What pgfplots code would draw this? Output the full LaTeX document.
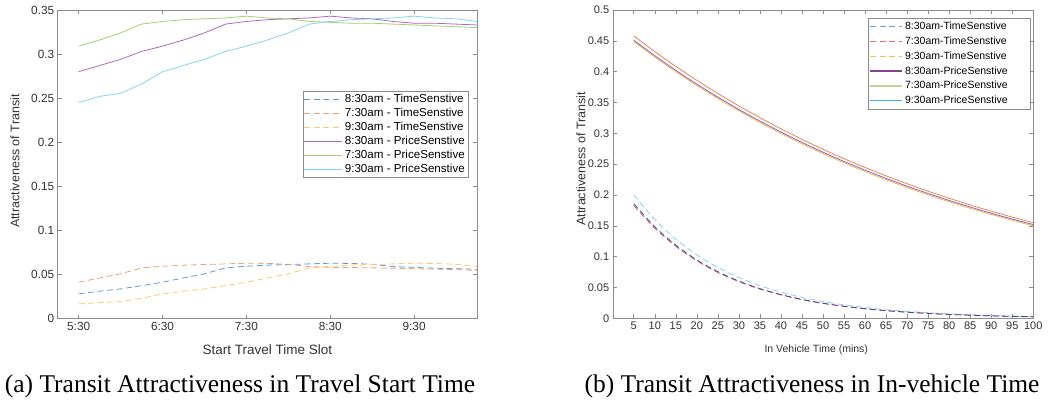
\documentclass[border=0pt]{standalone}
\usepackage{fontspec}
\setmainfont{Liberation Sans}
\newfontfamily\capfont{Liberation Serif}
\usepackage{pgfplots}
\pgfplotsset{compat=1.18}
\definecolor{lTb}{RGB}{95,155,212}
\definecolor{lTo}{RGB}{238,158,128}
\definecolor{lTy}{RGB}{246,205,115}
\definecolor{lPp}{RGB}{172,105,190}
\definecolor{lPg}{RGB}{165,205,115}
\definecolor{lPc}{RGB}{135,210,240}
\definecolor{rLb}{RGB}{110,160,230}
\definecolor{rLr}{RGB}{235,110,90}
\definecolor{rLy}{RGB}{245,190,90}
\definecolor{rLp}{RGB}{130,70,150}
\definecolor{rLg}{RGB}{190,215,150}
\definecolor{rLc}{RGB}{70,170,240}
\definecolor{rCo}{RGB}{235,130,90}
\definecolor{rCp}{RGB}{140,100,180}
\definecolor{rCy}{RGB}{245,180,80}
\definecolor{rCl}{RGB}{140,205,240}
\definecolor{rCn}{RGB}{60,75,160}
\definecolor{rCr}{RGB}{220,90,90}
\definecolor{axg}{RGB}{140,140,140}
\definecolor{txg}{RGB}{50,50,50}

\pgfplotstableread{
k  T830   T730   T930   P830  P730  P930
0  0.0280 0.0412 0.0166 0.280 0.309 0.245
1  0.0310 0.0460 0.0180 0.287 0.316 0.252
2  0.0336 0.0507 0.0193 0.294 0.324 0.2555
3  0.0372 0.0574 0.0230 0.303 0.334 0.266
4  0.0412 0.0593 0.0280 0.309 0.337 0.280
5  0.0460 0.0605 0.0310 0.316 0.339 0.287
6  0.0507 0.0612 0.0336 0.324 0.340 0.294
7  0.0574 0.0620 0.0372 0.334 0.341 0.303
8  0.0593 0.0627 0.0412 0.337 0.343 0.309
9  0.0605 0.0625 0.0460 0.339 0.341 0.316
10 0.0612 0.0615 0.0507 0.340 0.340 0.324
11 0.0620 0.0589 0.0574 0.341 0.337 0.334
12 0.0627 0.0580 0.0593 0.343 0.336 0.337
13 0.0625 0.0578 0.0605 0.341 0.335 0.339
14 0.0615 0.0575 0.0612 0.340 0.335 0.340
15 0.0589 0.0570 0.0620 0.337 0.334 0.341
16 0.0580 0.0565 0.0627 0.335 0.333 0.343
17 0.0570 0.0560 0.0625 0.335 0.332 0.341
18 0.0565 0.0555 0.0615 0.334 0.331 0.340
19 0.0559 0.0545 0.0589 0.333 0.330 0.337
}\lefttab

\pgfplotstableread{
x   So      Sp      Sy      Dl      Dn      Dr
5   0.4580  0.4510  0.4490  0.2000  0.1860  0.1830
10  0.4326  0.4259  0.4238  0.1603  0.1485  0.1461
15  0.4086  0.4022  0.4001  0.1284  0.1186  0.1167
20  0.3860  0.3798  0.3776  0.1029  0.0947  0.0932
25  0.3646  0.3587  0.3565  0.0825  0.0756  0.0744
30  0.3444  0.3387  0.3365  0.0661  0.0604  0.0594
35  0.3253  0.3199  0.3176  0.0529  0.0482  0.0474
40  0.3073  0.3021  0.2998  0.0424  0.0385  0.0379
45  0.2902  0.2853  0.2830  0.0340  0.0307  0.0302
50  0.2741  0.2694  0.2672  0.0272  0.0245  0.0241
55  0.2589  0.2544  0.2522  0.0218  0.0196  0.0193
60  0.2446  0.2403  0.2380  0.0175  0.0156  0.0154
65  0.2310  0.2269  0.2247  0.0140  0.0125  0.0123
70  0.2182  0.2143  0.2121  0.0112  0.0100  0.0098
75  0.2061  0.2024  0.2002  0.0090  0.0080  0.0078
80  0.1947  0.1911  0.1890  0.0072  0.0063  0.0063
85  0.1839  0.1805  0.1784  0.0058  0.0051  0.0050
90  0.1737  0.1704  0.1684  0.0046  0.0040  0.0040
95  0.1641  0.1609  0.1590  0.0037  0.0032  0.0032
100 0.1550  0.1520  0.1500  0.0030  0.0026  0.0025
}\righttab

\newcommand{\limgL}[2]{\addlegendimage{legend image code/.code={\draw[#1, draw=#2] (0pt,0pt) -- (38pt,0pt);}}}
\newcommand{\limgR}[2]{\addlegendimage{legend image code/.code={\draw[#1, draw=#2] (0pt,0pt) -- (32pt,0pt);}}}

\begin{document}
\begin{tikzpicture}[x=1pt,y=1pt]
\path[use as bounding box] (0,0) rectangle (1053,400);
\tikzset{
  dsh/.style={dash pattern=on 6pt off 3.5pt, line width=0.8pt},
  sld/.style={line width=0.8pt},
  ldsh/.style={dash pattern=on 6pt off 3.5pt, line width=1.1pt},
  lsld/.style={line width=1.1pt},
}
\pgfplotsset{
  commonax/.style={
    scale only axis, anchor=south west,
    axis line style={draw=axg}, tick style={draw=axg, line width=0.5pt},
    tick align=inside, major tick length=4pt,
    every tick label/.append style={text=txg},
    /pgf/number format/assume math mode=true,
    label style={text=txg},
    legend cell align=left,
    clip=true,
  },
}
\begin{axis}[commonax,
  at={(57.7pt,81.5pt)}, width=419.3pt, height=308.5pt,
  xmin=-1, xmax=19, ymin=0, ymax=0.35,
  xtick={0,4,8,12,16}, xticklabels={5:30,6:30,7:30,8:30,9:30},
  ytick={0,0.05,0.1,0.15,0.2,0.25,0.3,0.35},
  yticklabels={0,0.05,0.1,0.15,0.2,0.25,0.3,0.35},
  tick label style={font=\fontsize{11.8}{13}\selectfont},
  xlabel={Start Travel Time Slot}, ylabel={Attractiveness of Transit},
  xlabel style={font=\fontsize{13.5}{15}\selectfont, at={(axis description cs:0.5,-0.102)}, anchor=center},
  ylabel style={font=\fontsize{12.5}{14}\selectfont, at={(axis description cs:-0.102,0.51)}, anchor=center},
  legend style={at={(0.9785,0.7374)}, anchor=north east, draw=axg, fill=white,
    font=\fontsize{11.6}{13}\selectfont, inner sep=1pt, row sep=0pt,
    nodes={inner sep=2pt, text height=8pt, text depth=2pt}},
]
\addplot[dsh, draw=lTb, forget plot] table[x=k,y=T830]{\lefttab};
\addplot[dsh, draw=lTo, forget plot] table[x=k,y=T730]{\lefttab};
\addplot[dsh, draw=lTy, forget plot] table[x=k,y=T930]{\lefttab};
\addplot[sld, draw=lPp, forget plot] table[x=k,y=P830]{\lefttab};
\addplot[sld, draw=lPg, forget plot] table[x=k,y=P730]{\lefttab};
\addplot[sld, draw=lPc, forget plot] table[x=k,y=P930]{\lefttab};
\limgL{ldsh}{lTb}
\addlegendentry{8:30am - TimeSenstive}
\limgL{ldsh}{lTo}
\addlegendentry{7:30am - TimeSenstive}
\limgL{ldsh}{lTy}
\addlegendentry{9:30am - TimeSenstive}
\limgL{lsld}{lPp}
\addlegendentry{8:30am - PriceSenstive}
\limgL{lsld}{lPg}
\addlegendentry{7:30am - PriceSenstive}
\limgL{lsld}{lPc}
\addlegendentry{9:30am - PriceSenstive}
\end{axis}

\begin{axis}[commonax,
  at={(612.7pt,81.7pt)}, width=420.6pt, height=308.3pt,
  xmin=0, xmax=100, ymin=0, ymax=0.5,
  xtick={5,10,...,100},
  ytick={0,0.05,0.1,0.15,0.2,0.25,0.3,0.35,0.4,0.45,0.5},
  yticklabels={0,0.05,0.1,0.15,0.2,0.25,0.3,0.35,0.4,0.45,0.5},
  tick label style={font=\fontsize{11}{12}\selectfont},
  xlabel={In Vehicle Time (mins)}, ylabel={Attractiveness of Transit},
  xlabel style={font=\fontsize{10.5}{12}\selectfont, at={(axis description cs:0.484,-0.102)}, anchor=center},
  ylabel style={font=\fontsize{12.5}{14}\selectfont, at={(axis description cs:-0.0754,0.518)}, anchor=center},
  legend style={at={(0.9922,0.974)}, anchor=north east, draw=axg, fill=white,
    font=\fontsize{10.5}{12}\selectfont, inner sep=1pt, row sep=0pt,
    nodes={inner sep=2pt, text height=8.5pt, text depth=2.3pt}},
]
\addplot[sld, smooth, draw=rCy, forget plot] table[x=x,y=Sy]{\righttab};
\addplot[sld, smooth, draw=rCp, forget plot] table[x=x,y=Sp]{\righttab};
\addplot[sld, smooth, draw=rCo, forget plot] table[x=x,y=So]{\righttab};
\addplot[dsh, smooth, draw=rCl, forget plot] table[x=x,y=Dl]{\righttab};
\addplot[dsh, smooth, draw=rCr, forget plot] table[x=x,y=Dr]{\righttab};
\addplot[dsh, smooth, draw=rCn, forget plot] table[x=x,y=Dn]{\righttab};
\limgR{ldsh}{rLb}
\addlegendentry{8:30am-TimeSenstive\hspace{19pt}\mbox{}}
\limgR{ldsh}{rLr}
\addlegendentry{7:30am-TimeSenstive\hspace{19pt}\mbox{}}
\limgR{ldsh}{rLy}
\addlegendentry{9:30am-TimeSenstive\hspace{19pt}\mbox{}}
\limgR{lsld}{rLp}
\addlegendentry{8:30am-PriceSenstive\hspace{19pt}\mbox{}}
\limgR{line width=2.2pt}{rLg}
\addlegendentry{7:30am-PriceSenstive\hspace{19pt}\mbox{}}
\limgR{lsld}{rLc}
\addlegendentry{9:30am-PriceSenstive\hspace{19pt}\mbox{}}
\end{axis}

\node[font=\capfont\fontsize{25.5}{28}\selectfont, anchor=base] at (240,8) {(a) Transit Attractiveness in Travel Start Time};
\node[font=\capfont\fontsize{25.5}{28}\selectfont, anchor=base] at (812,8) {(b) Transit Attractiveness in In-vehicle Time};
\end{tikzpicture}
\end{document}
